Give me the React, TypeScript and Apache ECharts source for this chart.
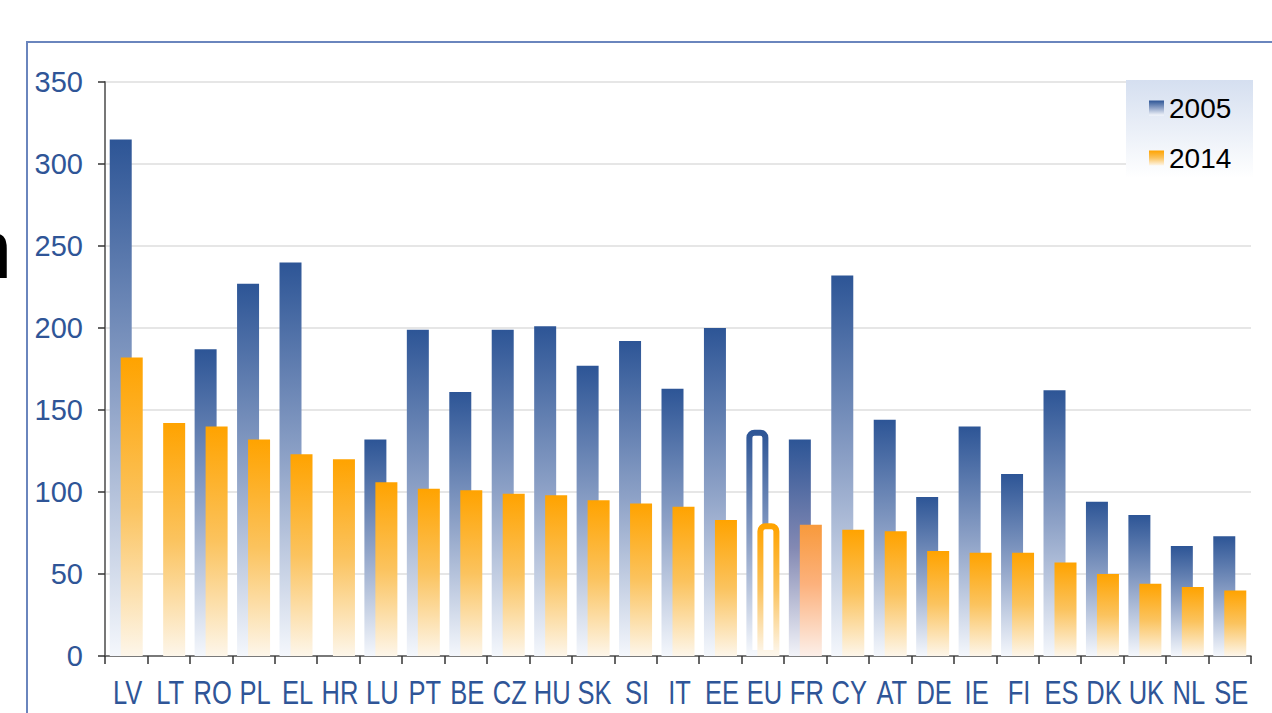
import React, { useEffect, useRef } from 'react';
import * as echarts from 'echarts';

const categories = ['LV', 'LT', 'RO', 'PL', 'EL', 'HR', 'LU', 'PT', 'BE', 'CZ', 'HU', 'SK', 'SI', 'IT', 'EE', 'EU', 'FR', 'CY', 'AT', 'DE', 'IE', 'FI', 'ES', 'DK', 'UK', 'NL', 'SE'];
const values2005: (number | null)[] = [315, null, 187, 227, 240, null, 132, 199, 161, 199, 201, 177, 192, 163, 200, 138, 132, 232, 144, 97, 140, 111, 162, 94, 86, 67, 73];
const values2014: (number | null)[] = [182, 142, 140, 132, 123, 120, 106, 102, 101, 99, 98, 95, 93, 91, 83, 81, 80, 77, 76, 64, 63, 63, 57, 50, 44, 42, 40];
const seriesNames = ['2005', '2014'];
const yMin = 0;
const yMax = 350;
const yInterval = 50;

type Stop = [number, string];
const grad = (stops: Stop[]) =>
  new echarts.graphic.LinearGradient(0, 0, 0, 1, stops.map(([offset, color]) => ({ offset, color })));

const blueStops: Stop[] = [[0, '#2d5596'], [0.5, '#8ea2c7'], [1, '#f4f7fc']];
const orangeStops: Stop[] = [[0, '#ffa300'], [0.5, '#fbc35e'], [1, '#fdf6ea']];
const frBlueStops: Stop[] = [[0, '#2d5596'], [0.5, '#8389b3'], [1, '#f2f3f8']];
const frOrangeStops: Stop[] = [[0, '#f89a3c'], [0.45, '#fcb17c'], [1, '#fcefe9']];

const buildData = (vals: (number | null)[], stops: Stop[], frStops: Stop[]) =>
  vals.map((v, i) => {
    const cat = categories[i];
    if (cat === 'EU') {
      return {
        value: v,
        itemStyle: { color: '#ffffff', borderColor: grad(stops), borderWidth: 6, borderRadius: [5, 5, 0, 0] },
      };
    }
    if (cat === 'FR') {
      return { value: v, itemStyle: { color: grad(frStops) } };
    }
    return { value: v };
  });

const baseGraphic = [
  {
    type: 'polyline',
    z: 1,
    shape: { points: [[27, 713], [27, 42], [1272, 42]] },
    style: { fill: 'none', stroke: '#6a85bd', lineWidth: 2 },
  },
  {
    type: 'text',
    z: 1,
    x: -34,
    y: 249,
    style: { text: 'n', font: '83px Liberation Sans, Arial, sans-serif', fill: '#000000', verticalAlign: 'middle' },
  },
  {
    type: 'rect',
    z: 5,
    shape: { x: 1126, y: 80, width: 127, height: 98 },
    style: { fill: grad([[0, '#d5dff0'], [1, '#ffffff']]) },
  },
];

export default function App() {
  const ref = useRef<HTMLDivElement>(null);
  useEffect(() => {
    if (!ref.current) return;
    const chart = echarts.init(ref.current, undefined, { renderer: 'svg' });
    chart.setOption({
      animation: false,
      backgroundColor: '#ffffff',
      grid: { left: 105, right: 21, top: 82, bottom: 57, containLabel: false },
      legend: {
        orient: 'vertical',
        left: 1144,
        top: 89,
        itemWidth: 15,
        itemHeight: 15,
        itemGap: 22,
        icon: 'rect',
        z: 10,
        textStyle: { fontFamily: 'Liberation Sans, Arial, sans-serif', fontSize: 28, color: '#000000' },
        data: seriesNames,
      },
      xAxis: {
        type: 'category',
        data: categories,
        axisLine: { show: true, lineStyle: { color: '#555555', width: 1.5 } },
        axisTick: { show: true, length: 8, lineStyle: { color: '#333333', width: 1.5 } },
        axisLabel: { show: false },
        splitLine: { show: false },
      },
      yAxis: {
        type: 'value',
        min: yMin,
        max: yMax,
        interval: yInterval,
        axisLine: { show: true, lineStyle: { color: '#777777', width: 2 } },
        axisTick: { show: true, length: 7, lineStyle: { color: '#333333', width: 1.5 } },
        axisLabel: {
          margin: 22,
          fontFamily: 'Liberation Sans, Arial, sans-serif',
          fontSize: 29,
          color: '#2f5597',
        },
        splitLine: { show: true, lineStyle: { color: '#e6e6e6', width: 2 } },
      },
      graphic: baseGraphic,
      series: [
        {
          name: seriesNames[0],
          type: 'bar',
          barWidth: 22,
          barGap: '-50%',
          itemStyle: { color: grad(blueStops) },
          data: buildData(values2005, blueStops, frBlueStops),
        },
        {
          name: seriesNames[1],
          type: 'bar',
          barWidth: 22,
          barGap: '-50%',
          itemStyle: { color: grad(orangeStops) },
          data: buildData(values2014, orangeStops, frOrangeStops),
        },
      ],
    });
    const labelY = (chart.convertToPixel({ yAxisIndex: 0 }, 0) as number) + 36;
    const labels = categories.map((cat) => {
      const x = chart.convertToPixel({ xAxisIndex: 0 }, cat) as number;
      return {
        type: 'text',
        z: 3,
        x: x + 1.5,
        y: labelY,
        scaleX: 0.75,
        style: {
          text: cat,
          font: '34px Liberation Sans, Arial, sans-serif',
          fill: '#2f5597',
          align: 'center',
          verticalAlign: 'middle',
        },
      };
    });
    chart.setOption({ graphic: [...baseGraphic, ...labels] });
    return () => chart.dispose();
  }, []);
  return <div ref={ref} style={{ position: 'absolute', left: 0, top: 0, width: 1272, height: 713 }} />;
}
